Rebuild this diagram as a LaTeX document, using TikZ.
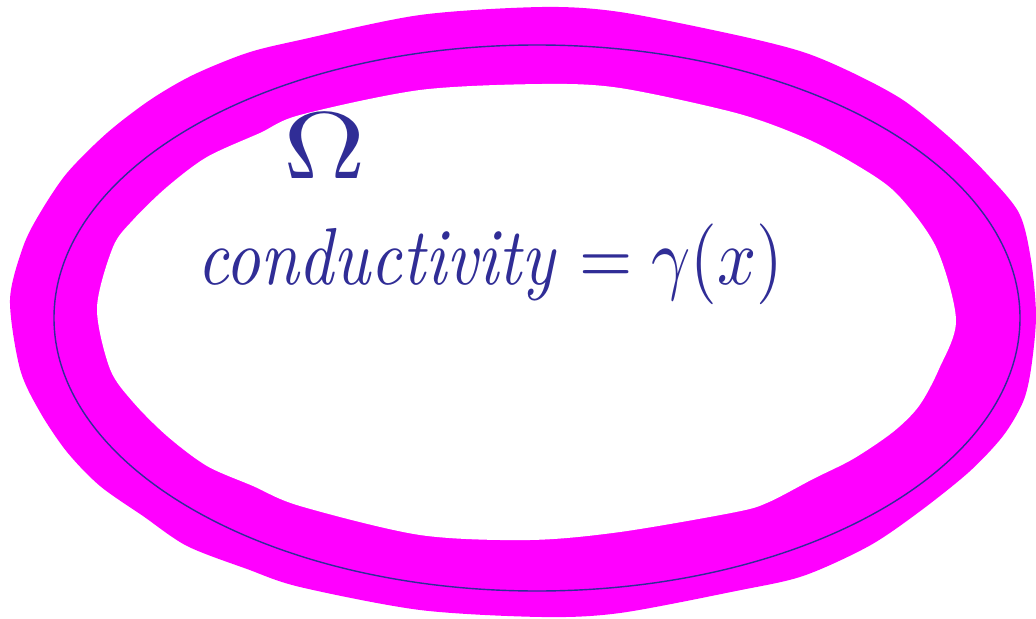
\documentclass[tikz,border=0pt]{standalone}
\usepackage{amsmath, amssymb}
\usepackage{tikz}
\usetikzlibrary{calc}
\definecolor{inkblue}{RGB}{48,45,150}
\definecolor{ringpink}{RGB}{255,0,255}

\begin{document}
\begin{tikzpicture}[x=0.02cm,y=-0.02cm]
            \useasboundingbox (0,0) rectangle (1036,619);
            % Draw the thick ring round the region
            \fill [ringpink] plot [smooth cycle, tension=0.5] coordinates {(420,15) (542,7) (620,12) (736,35) (803,52) (853,73) (903,100) (949,137) (986,173) (1019,213) (1031,260) (1036,316) (1031,369) (1023,402) (1003,436) (969,472) (919,512) (869,546) (803,576) (736,591) (620,613) (542,617) (420,610) (300,587) (247,569) (187,546) (143,516) (100,486) (67,452) (40,412) (20,369) (10,300) (23,247) (40,213) (67,173) (107,133) (150,100) (193,75) (247,53) (300,40)};
            \fill [white] plot [smooth cycle, tension=0.5] coordinates {(420,90) (542,84) (620,88) (736,113) (803,137) (853,163) (896,193) (936,247) (956,320) (939,369) (919,406) (893,432) (853,459) (813,479) (769,502) (736,512) (620,532) (530,540) (420,535) (300,506) (253,486) (207,466) (167,436) (133,402) (110,369) (97,308) (113,247) (133,220) (167,187) (207,157) (260,133) (300,115)};
            % Draw the boundary
            \draw [inkblue, line width=0.8pt] (537,318) ellipse [x radius=483, y radius=273];
            % Label the region Omega
            \node (omega) [anchor=base west, inkblue, inner sep=0pt] at (283,178) {\scalebox{6.5}[5.4]{$\Omega$}};
            % Label the conductivity
            \node (cond) [anchor=base west, inkblue, inner sep=0pt] at (197,284) {\scalebox{3.9}[4.6]{\itshape conductivity $=\gamma(x)$}};
          \end{tikzpicture}
\end{document}
